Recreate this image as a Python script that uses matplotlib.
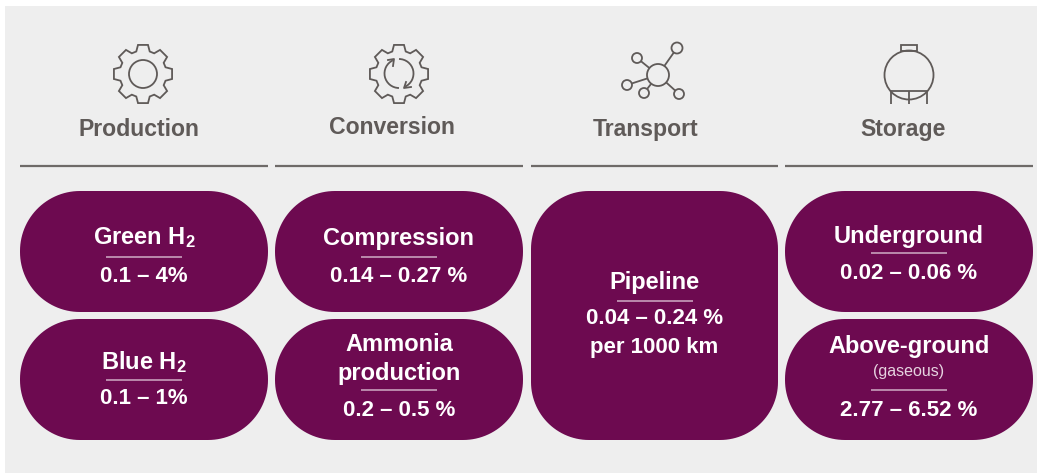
import numpy as np
import matplotlib
matplotlib.use("Agg")
import matplotlib.pyplot as plt
from matplotlib.patches import Circle, Arc, Rectangle, Polygon

plt.rcParams['font.family'] = ['Liberation Sans', 'DejaVu Sans']
plt.rcParams['mathtext.default'] = 'regular'

# Chart content
stages = ['Production', 'Conversion', 'Transport', 'Storage']
names = ['Green H$_2$', 'Blue H$_2$', 'Compression', 'Ammonia\nproduction', 'Pipeline',
         'Underground', 'Above-ground']
ranges = ['0.1 – 4%', '0.1 – 1%', '0.14 – 0.27 %', '0.2 – 0.5 %',
          '0.04 – 0.24 %\nper 1000 km', '0.02 – 0.06 %', '2.77 – 6.52 %']
note = '(gaseous)'

# Layout in image pixels
stage_x = [139, 392, 646, 903]
stage_y = [129, 127, 129, 129]
rule_x = [(20, 268), (275, 523), (531, 778), (785, 1033)]
boxes = [(20, 191, 248, 121), (20, 319, 248, 121), (275, 191, 248, 121), (275, 319, 248, 121),
         (531, 191, 247, 249), (785, 191, 248, 121), (785, 319, 248, 121)]
radii = [60, 60, 60, 60, 58, 60, 60]
name_y = [238, 362, 238, 359, 282, 236, 346]
line_y = [257, 380, 257, 390, 301, 253, 390]
range_y = [276, 398, 276, 410, 333, 273, 410]

PURPLE = '#6d0a50'
GREY = '#5f5a58'
PANEL = '#eeeeee'
RULE = '#c8a0bb'
LW = 1.3

fig = plt.figure(figsize=(10.37, 4.73), dpi=100)
ax = fig.add_axes([0, 0, 1, 1])
ax.set_xlim(0, 1037)
ax.set_ylim(473, 0)
ax.axis('off')

ax.add_patch(Rectangle((5, 6), 1032, 467, fc=PANEL, ec='none'))


def gear(cx, cy):
    # eight teeth, outline walks round the wheel
    pts = []
    for i in range(8):
        a = i * np.pi / 4 - np.pi / 2
        for da, r in [(-0.29, 23.5), (-0.17, 29.5), (0.17, 29.5), (0.29, 23.5)]:
            pts.append((cx + r * np.cos(a + da), cy + r * np.sin(a + da)))
    ax.add_patch(Polygon(pts, closed=True, fc='none', ec=GREY, lw=LW))


def rounded_box(x, y, w, h, r):
    # true circular corners, the bbox patch gives squarer ones
    pts = []
    corners = [(x + w - r, y + r, -90), (x + w - r, y + h - r, 0), (x + r, y + h - r, 90), (x + r, y + r, 180)]
    for cx, cy, start in corners:
        t = np.radians(np.linspace(start, start + 90, 30))
        pts.extend(zip(cx + r * np.cos(t), cy + r * np.sin(t)))
    ax.add_patch(Polygon(pts, closed=True, fc=PURPLE, ec='none'))


# Icons
gear(143, 74)
ax.add_patch(Circle((143, 74), 14, fc='none', ec=GREY, lw=LW))

gear(399, 74)
# y axis is flipped, so arc angles run clockwise on screen
ax.add_patch(Arc((399, 73.5), 29, 29, theta1=90, theta2=245, ec=GREY, lw=LW))
ax.add_patch(Arc((399, 73.5), 29, 29, theta1=270, theta2=425, ec=GREY, lw=LW))
ax.plot([388, 394, 393], [60, 59, 66], color=GREY, lw=LW)
ax.plot([411, 404, 406], [87, 88, 82], color=GREY, lw=LW)

hub = np.array([658, 75])
nodes = [(677, 48, 5.5), (637, 58, 5), (627, 85, 5), (644, 93, 5), (679, 94, 5)]
for nx, ny, nr in nodes:
    d = np.array([nx, ny]) - hub
    u = d / np.hypot(*d)
    a = hub + u * 11
    b = hub + u * (np.hypot(*d) - nr)
    ax.plot([a[0], b[0]], [a[1], b[1]], color=GREY, lw=LW, solid_capstyle='butt')
    ax.add_patch(Circle((nx, ny), nr, fc='none', ec=GREY, lw=LW))
ax.add_patch(Circle(hub, 11, fc='none', ec=GREY, lw=LW))

ax.add_patch(Circle((909, 75), 24.5, fc='none', ec=GREY, lw=LW))
ax.add_patch(Rectangle((901, 45), 16, 6, fc='none', ec=GREY, lw=LW))
ax.plot([891, 927], [91, 91], color=GREY, lw=LW)
for lx in [891, 909, 927]:
    ax.plot([lx, lx], [91, 104], color=GREY, lw=LW, solid_capstyle='butt')

# Column headers
for label, x, y, (x0, x1) in zip(stages, stage_x, stage_y, rule_x):
    ax.text(x, y, label, ha='center', va='center', fontsize=16.6, fontweight='bold', color=GREY)
    ax.plot([x0, x1], [166, 166], color='#6e6a68', lw=1.6, solid_capstyle='butt')

# Rounded boxes with their labels
for i, (x, y, w, h) in enumerate(boxes):
    rounded_box(x, y, w, h, radii[i])
    cx = x + w / 2
    ax.text(cx, name_y[i], names[i], ha='center', va='center', fontsize=17, fontweight='bold',
            color='white', linespacing=1.28)
    ax.plot([cx - 38, cx + 38], [line_y[i], line_y[i]], color=RULE, lw=1.2, solid_capstyle='butt')
    ax.text(cx, range_y[i], ranges[i], ha='center', va='center', fontsize=16, fontweight='bold',
            color='white', linespacing=1.45)

ax.text(909, 371, note, ha='center', va='center', fontsize=11.5, color='#e6d3e0')

fig.savefig('out.png', dpi=100, facecolor='white')
